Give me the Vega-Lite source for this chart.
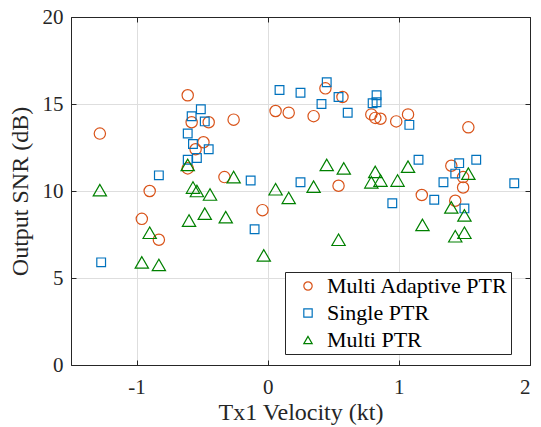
{
  "$schema": "https://vega.github.io/schema/vega-lite/v6.json",
  "width": 459,
  "height": 348,
  "autosize": "none",
  "padding": {"left": 71, "top": 17, "right": 11, "bottom": 62},
  "background": "white",
  "config": {
    "font": "Liberation Serif, Times New Roman, serif",
    "view": {"stroke": "#262626", "strokeWidth": 1},
    "axis": {
      "labelFont": "Liberation Serif, Times New Roman, serif",
      "titleFont": "Liberation Serif, Times New Roman, serif",
      "labelFontSize": 21,
      "titleFontSize": 24,
      "titleFontWeight": "normal",
      "labelColor": "#262626",
      "titleColor": "#262626",
      "domainColor": "#262626",
      "tickColor": "#262626",
      "gridColor": "#dedede",
      "gridWidth": 1
    },
    "legend": {
      "labelFont": "Liberation Serif, Times New Roman, serif",
      "labelLimit": 400
    }
  },
  "data": {
    "values": [
      {"v": -1.28, "snr": 13.3, "series": "Multi Adaptive PTR"},
      {"v": -0.61, "snr": 15.5, "series": "Multi Adaptive PTR"},
      {"v": -0.58, "snr": 13.95, "series": "Multi Adaptive PTR"},
      {"v": -0.45, "snr": 13.95, "series": "Multi Adaptive PTR"},
      {"v": -0.26, "snr": 14.1, "series": "Multi Adaptive PTR"},
      {"v": -0.49, "snr": 12.8, "series": "Multi Adaptive PTR"},
      {"v": -0.55, "snr": 12.4, "series": "Multi Adaptive PTR"},
      {"v": -0.61, "snr": 11.3, "series": "Multi Adaptive PTR"},
      {"v": -0.33, "snr": 10.8, "series": "Multi Adaptive PTR"},
      {"v": -0.9, "snr": 10.0, "series": "Multi Adaptive PTR"},
      {"v": -0.96, "snr": 8.4, "series": "Multi Adaptive PTR"},
      {"v": -0.83, "snr": 7.2, "series": "Multi Adaptive PTR"},
      {"v": -0.04, "snr": 8.9, "series": "Multi Adaptive PTR"},
      {"v": 0.06, "snr": 14.6, "series": "Multi Adaptive PTR"},
      {"v": 0.16, "snr": 14.5, "series": "Multi Adaptive PTR"},
      {"v": 0.35, "snr": 14.3, "series": "Multi Adaptive PTR"},
      {"v": 0.44, "snr": 15.9, "series": "Multi Adaptive PTR"},
      {"v": 0.57, "snr": 15.4, "series": "Multi Adaptive PTR"},
      {"v": 0.54, "snr": 10.3, "series": "Multi Adaptive PTR"},
      {"v": 0.79, "snr": 14.4, "series": "Multi Adaptive PTR"},
      {"v": 0.82, "snr": 14.2, "series": "Multi Adaptive PTR"},
      {"v": 0.86, "snr": 14.15, "series": "Multi Adaptive PTR"},
      {"v": 0.98, "snr": 14.0, "series": "Multi Adaptive PTR"},
      {"v": 1.07, "snr": 14.4, "series": "Multi Adaptive PTR"},
      {"v": 1.53, "snr": 13.66, "series": "Multi Adaptive PTR"},
      {"v": 1.4, "snr": 11.45, "series": "Multi Adaptive PTR"},
      {"v": 1.49, "snr": 10.8, "series": "Multi Adaptive PTR"},
      {"v": 1.49, "snr": 10.2, "series": "Multi Adaptive PTR"},
      {"v": 1.175, "snr": 9.77, "series": "Multi Adaptive PTR"},
      {"v": 1.43, "snr": 9.44, "series": "Multi Adaptive PTR"},

      {"v": -1.27, "snr": 5.9, "series": "Single PTR"},
      {"v": -0.83, "snr": 10.9, "series": "Single PTR"},
      {"v": -0.51, "snr": 14.7, "series": "Single PTR"},
      {"v": -0.58, "snr": 14.3, "series": "Single PTR"},
      {"v": -0.48, "snr": 14.0, "series": "Single PTR"},
      {"v": -0.61, "snr": 13.3, "series": "Single PTR"},
      {"v": -0.57, "snr": 12.7, "series": "Single PTR"},
      {"v": -0.45, "snr": 12.4, "series": "Single PTR"},
      {"v": -0.54, "snr": 11.9, "series": "Single PTR"},
      {"v": -0.61, "snr": 11.8, "series": "Single PTR"},
      {"v": -0.1, "snr": 7.8, "series": "Single PTR"},
      {"v": -0.13, "snr": 10.6, "series": "Single PTR"},
      {"v": 0.09, "snr": 15.8, "series": "Single PTR"},
      {"v": 0.25, "snr": 15.65, "series": "Single PTR"},
      {"v": 0.45, "snr": 16.25, "series": "Single PTR"},
      {"v": 0.41, "snr": 15.0, "series": "Single PTR"},
      {"v": 0.54, "snr": 15.4, "series": "Single PTR"},
      {"v": 0.61, "snr": 14.5, "series": "Single PTR"},
      {"v": 0.83, "snr": 15.5, "series": "Single PTR"},
      {"v": 0.8, "snr": 15.04, "series": "Single PTR"},
      {"v": 0.83, "snr": 15.1, "series": "Single PTR"},
      {"v": 1.08, "snr": 13.8, "series": "Single PTR"},
      {"v": 0.25, "snr": 10.5, "series": "Single PTR"},
      {"v": 0.95, "snr": 9.3, "series": "Single PTR"},
      {"v": 1.15, "snr": 11.8, "series": "Single PTR"},
      {"v": 1.46, "snr": 11.6, "series": "Single PTR"},
      {"v": 1.43, "snr": 11.0, "series": "Single PTR"},
      {"v": 1.59, "snr": 11.8, "series": "Single PTR"},
      {"v": 1.34, "snr": 10.5, "series": "Single PTR"},
      {"v": 1.88, "snr": 10.45, "series": "Single PTR"},
      {"v": 1.27, "snr": 9.5, "series": "Single PTR"},
      {"v": 1.5, "snr": 9.0, "series": "Single PTR"},

      {"v": -1.28, "snr": 10.05, "series": "Multi PTR"},
      {"v": -0.61, "snr": 11.5, "series": "Multi PTR"},
      {"v": -0.57, "snr": 10.2, "series": "Multi PTR"},
      {"v": -0.54, "snr": 10.0, "series": "Multi PTR"},
      {"v": -0.44, "snr": 9.8, "series": "Multi PTR"},
      {"v": -0.26, "snr": 10.8, "series": "Multi PTR"},
      {"v": -0.9, "snr": 7.6, "series": "Multi PTR"},
      {"v": -0.6, "snr": 8.3, "series": "Multi PTR"},
      {"v": -0.48, "snr": 8.7, "series": "Multi PTR"},
      {"v": -0.32, "snr": 8.5, "series": "Multi PTR"},
      {"v": -0.96, "snr": 5.9, "series": "Multi PTR"},
      {"v": -0.83, "snr": 5.75, "series": "Multi PTR"},
      {"v": -0.03, "snr": 6.3, "series": "Multi PTR"},
      {"v": 0.06, "snr": 10.1, "series": "Multi PTR"},
      {"v": 0.16, "snr": 9.6, "series": "Multi PTR"},
      {"v": 0.35, "snr": 10.25, "series": "Multi PTR"},
      {"v": 0.45, "snr": 11.5, "series": "Multi PTR"},
      {"v": 0.58, "snr": 11.3, "series": "Multi PTR"},
      {"v": 0.54, "snr": 7.2, "series": "Multi PTR"},
      {"v": 0.82, "snr": 11.1, "series": "Multi PTR"},
      {"v": 0.79, "snr": 10.5, "series": "Multi PTR"},
      {"v": 0.86, "snr": 10.6, "series": "Multi PTR"},
      {"v": 0.99, "snr": 10.6, "series": "Multi PTR"},
      {"v": 1.07, "snr": 11.4, "series": "Multi PTR"},
      {"v": 1.53, "snr": 11.0, "series": "Multi PTR"},
      {"v": 1.4, "snr": 9.06, "series": "Multi PTR"},
      {"v": 1.5, "snr": 8.6, "series": "Multi PTR"},
      {"v": 1.18, "snr": 8.05, "series": "Multi PTR"},
      {"v": 1.43, "snr": 7.4, "series": "Multi PTR"},
      {"v": 1.5, "snr": 7.6, "series": "Multi PTR"}
    ]
  },
  "encoding": {
    "x": {
      "field": "v", "type": "quantitative",
      "scale": {"domain": [-1.5, 2], "nice": false, "zero": false},
      "axis": null
    },
    "y": {
      "field": "snr", "type": "quantitative",
      "scale": {"domain": [0, 20], "nice": false},
      "axis": null
    },
    "color": {
      "field": "series", "type": "nominal",
      "scale": {"domain": ["Multi Adaptive PTR", "Single PTR", "Multi PTR"], "range": ["#D95319", "#0072BD", "#008000"]},
      "legend": {
        "title": null,
        "orient": "none",
        "legendX": 214,
        "legendY": 255,
        "fillColor": "white",
        "strokeColor": "#262626",
        "padding": 3,
        "labelFont": "Liberation Serif, Times New Roman, serif",
        "labelFontSize": 22,
        "labelLimit": 400,
        "labelColor": "#000000",
        "labelOffset": 8,
        "symbolOffset": 9,
        "symbolSize": 70,
        "symbolStrokeWidth": 1.2,
        "symbolFillColor": "transparent",
        "rowPadding": 5
      }
    },
    "shape": {
      "field": "series", "type": "nominal",
      "scale": {"domain": ["Multi Adaptive PTR", "Single PTR", "Multi PTR"], "range": ["circle", "square", "triangle-up"]},
      "legend": {
        "title": null,
        "orient": "none",
        "legendX": 214,
        "legendY": 255,
        "fillColor": "white",
        "strokeColor": "#262626",
        "padding": 3,
        "labelFont": "Liberation Serif, Times New Roman, serif",
        "labelFontSize": 22,
        "labelLimit": 400,
        "labelColor": "#000000",
        "labelOffset": 8,
        "symbolOffset": 9,
        "symbolSize": 70,
        "symbolStrokeWidth": 1.2,
        "symbolFillColor": "transparent",
        "rowPadding": 5
      }
    }
  },
  "layer": [
    {
      "transform": [{"filter": "datum.series === 'Multi Adaptive PTR'"}],
      "mark": {"type": "point", "filled": false, "size": 128, "strokeWidth": 1.2, "opacity": 1},
      "encoding": {
        "x": {
          "field": "v", "type": "quantitative",
          "axis": {
            "orient": "bottom",
            "values": [-1, 0, 1, 2],
            "labelExpr": "datum.value",
            "title": "Tx1 Velocity (kt)",
            "grid": true,
            "tickSize": -5,
            "labelPadding": 16,
            "titlePadding": 3
          }
        },
        "y": {
          "field": "snr", "type": "quantitative",
          "axis": {
            "orient": "left",
            "values": [0, 5, 10, 15, 20],
            "title": "Output SNR (dB)",
            "grid": true,
            "tickSize": -5,
            "labelPadding": 13,
            "titlePadding": 10
          }
        }
      }
    },
    {
      "transform": [{"filter": "datum.series === 'Single PTR'"}],
      "mark": {"type": "point", "filled": false, "size": 76, "strokeWidth": 1.2, "opacity": 1}
    },
    {
      "transform": [{"filter": "datum.series === 'Multi PTR'"}],
      "mark": {"type": "point", "filled": false, "size": 177, "strokeWidth": 1.2, "opacity": 1},
      "encoding": {
        "x": {
          "field": "v", "type": "quantitative",
          "axis": {"orient": "top", "values": [-1, 0, 1, 2], "labels": false, "title": null, "grid": false, "tickSize": -5, "domain": true}
        },
        "y": {
          "field": "snr", "type": "quantitative",
          "axis": {"orient": "right", "values": [0, 5, 10, 15, 20], "labels": false, "title": null, "grid": false, "tickSize": -5, "domain": true}
        }
      }
    }
  ],
  "resolve": {"axis": {"x": "independent", "y": "independent"}}
}
